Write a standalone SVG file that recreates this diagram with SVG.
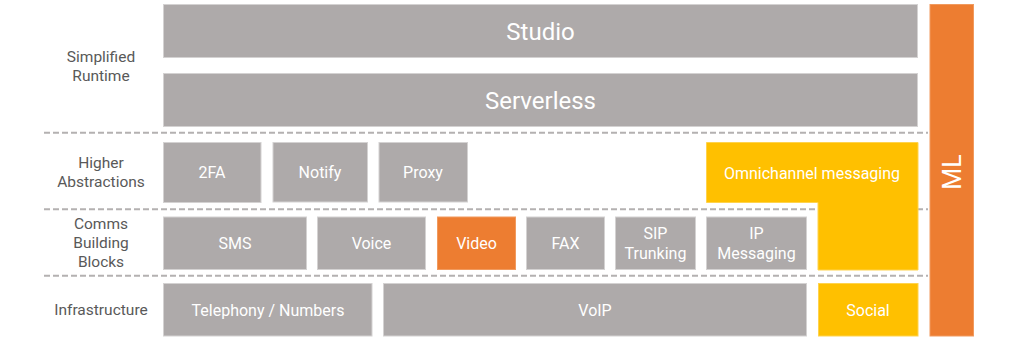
<svg xmlns="http://www.w3.org/2000/svg" width="1024" height="341" viewBox="0 0 1024 341">
<style>
.g{fill:#aeaaaa;stroke:#d4d2d2;stroke-width:1}
.o{fill:#ed7d31;stroke:#f19a5e;stroke-width:1}
.y{fill:#ffc000;stroke:#ffd34d;stroke-width:1}
.t{font-family:Roboto,"Liberation Sans",sans-serif;fill:#ffffff;font-size:16px;text-anchor:middle}
.big{font-size:24px}
.ml{font-size:25px}
.l{font-family:Roboto,"Liberation Sans",sans-serif;fill:#595959;font-size:15.5px;text-anchor:middle}
.d{stroke:#b4b1b1;stroke-width:2;stroke-dasharray:6 3;fill:none}
</style>
<rect width="1024" height="341" fill="#ffffff"/>
<g id="layer-labels">
<text class="l" x="101" y="62">Simplified</text>
<text class="l" x="101" y="81">Runtime</text>
<text class="l" x="101" y="168">Higher</text>
<text class="l" x="101" y="187">Abstractions</text>
<text class="l" x="101" y="229">Comms</text>
<text class="l" x="101" y="248">Building</text>
<text class="l" x="101" y="267">Blocks</text>
<text class="l" x="101" y="315">Infrastructure</text>
</g>
<g id="connectors">
<line class="d" x1="44" y1="132.7" x2="928" y2="132.7"/>
<line class="d" x1="44" y1="209.3" x2="928" y2="209.3"/>
<line class="d" x1="44" y1="275.8" x2="928" y2="275.8"/>
</g>
<g id="studio"><rect class="g" x="163.5" y="4.5" width="754" height="53"/><text class="t big" x="540.5" y="39.5">Studio</text></g>
<g id="serverless"><rect class="g" x="163.5" y="73.5" width="754" height="53"/><text class="t big" x="540.5" y="108.5">Serverless</text></g>
<g id="ml"><rect class="o" x="930" y="4.5" width="43.5" height="331.5"/><text class="t ml" transform="translate(960.5,172) rotate(-90)" x="0" y="0">ML</text></g>
<g id="twofa"><rect class="g" x="163.5" y="142.5" width="97.5" height="60"/><text class="t" x="212" y="178">2FA</text></g>
<g id="notify"><rect class="g" x="273" y="142.5" width="94.5" height="59.5"/><text class="t" x="320" y="177.5">Notify</text></g>
<g id="proxy"><rect class="g" x="379" y="142.5" width="88.5" height="59.5"/><text class="t" x="423" y="178">Proxy</text></g>
<g id="omnichannel"><path class="y" d="M706.5,142.5 H918 V270 H818 V202.5 H706.5 Z"/><text class="t" x="812" y="178.5">Omnichannel messaging</text></g>
<g id="sms"><rect class="g" x="163.5" y="217" width="143" height="52.5"/><text class="t" x="235" y="248.5">SMS</text></g>
<g id="voice"><rect class="g" x="317.5" y="217" width="108" height="52.5"/><text class="t" x="371.5" y="248.5">Voice</text></g>
<g id="video"><rect class="o" x="437.5" y="217" width="78" height="52.5"/><text class="t" x="476.5" y="248.5">Video</text></g>
<g id="fax"><rect class="g" x="526.5" y="217" width="78" height="52.5"/><text class="t" x="565.5" y="248.5">FAX</text></g>
<g id="sip"><rect class="g" x="615.5" y="217" width="80" height="52.5"/><text class="t" x="655.5" y="239">SIP</text><text class="t" x="655.5" y="258.5">Trunking</text></g>
<g id="ipmessaging"><rect class="g" x="706.5" y="217" width="100" height="52.5"/><text class="t" x="756.5" y="239">IP</text><text class="t" x="756.5" y="258.5">Messaging</text></g>
<g id="telephony"><rect class="g" x="163.5" y="283.5" width="208.5" height="52.5"/><text class="t" x="268" y="315.5">Telephony / Numbers</text></g>
<g id="voip"><rect class="g" x="383.5" y="283.5" width="423" height="52.5"/><text class="t" x="595" y="315.5">VoIP</text></g>
<g id="social"><rect class="y" x="818.5" y="283.5" width="99.5" height="52.5"/><text class="t" x="868" y="315.5">Social</text></g>
</svg>
